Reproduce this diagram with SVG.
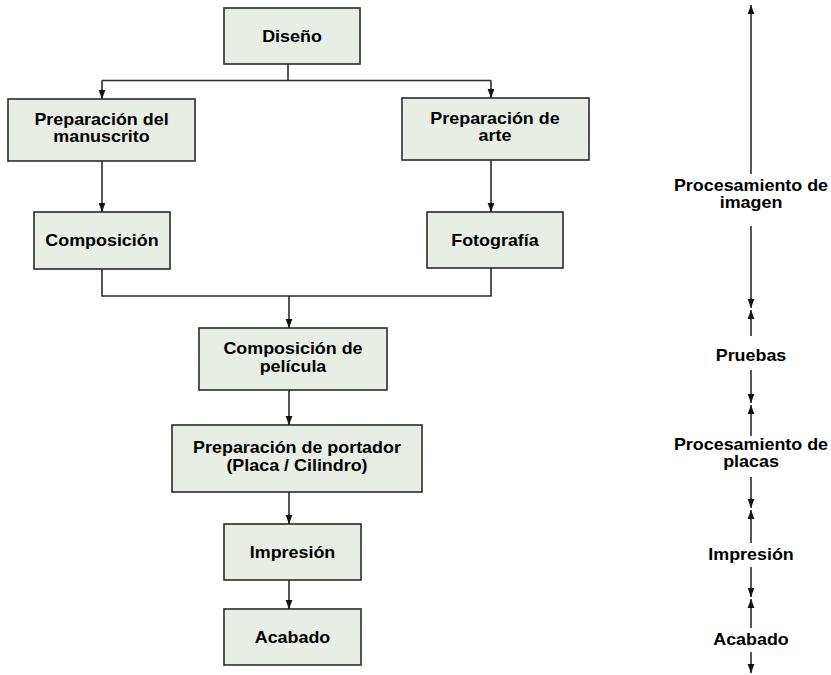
<svg xmlns="http://www.w3.org/2000/svg" width="831" height="675" viewBox="0 0 831 675">
  <style>
    .box { fill: #e8ede6; stroke: #2b2b2b; stroke-width: 1.6; }
    .lbl { font-family: "Liberation Sans", Arial, sans-serif; font-weight: bold; font-size: 15.7px; fill: #000; text-anchor: middle; }
    .wire { fill: none; stroke: #2b2b2b; stroke-width: 1.6; }
  </style>
  <defs>
    <marker id="tip" markerUnits="userSpaceOnUse" markerWidth="9" markerHeight="8" viewBox="0 0 9 8" refX="9" refY="4" orient="auto-start-reverse">
      <path d="M0,0.6 L9,4 L0,7.4 Z" fill="#111"/>
    </marker>
  </defs>
  <rect width="831" height="675" fill="#ffffff"/>

  <!-- connectors of the flow chart -->
  <g id="connectors">
    <path class="wire" d="M288,64 V80.5"/>
    <path class="wire" d="M102,80.5 H491"/>
    <path class="wire" d="M102,80.5 V99" marker-end="url(#tip)"/>
    <path class="wire" d="M491,80.5 V98" marker-end="url(#tip)"/>
    <path class="wire" d="M102,161 V212" marker-end="url(#tip)"/>
    <path class="wire" d="M491,160 V212" marker-end="url(#tip)"/>
    <path class="wire" d="M102,269 V296 H491 V268"/>
    <path class="wire" d="M289,296 V328" marker-end="url(#tip)"/>
    <path class="wire" d="M289,390 V425" marker-end="url(#tip)"/>
    <path class="wire" d="M289,492 V524" marker-end="url(#tip)"/>
    <path class="wire" d="M289,580 V609" marker-end="url(#tip)"/>

    <!-- stage axis on the right -->
    <path class="wire" d="M751,174 V5" marker-end="url(#tip)"/>
    <path class="wire" d="M751,226 V308" marker-end="url(#tip)"/>
    <path class="wire" d="M751,336 V310" marker-end="url(#tip)"/>
    <path class="wire" d="M751,370 V403" marker-end="url(#tip)"/>
    <path class="wire" d="M751,436 V405" marker-end="url(#tip)"/>
    <path class="wire" d="M751,477 V508" marker-end="url(#tip)"/>
    <path class="wire" d="M751,543 V510" marker-end="url(#tip)"/>
    <path class="wire" d="M751,567 V597" marker-end="url(#tip)"/>
    <path class="wire" d="M751,628 V599" marker-end="url(#tip)"/>
    <path class="wire" d="M751,652 V673" marker-end="url(#tip)"/>
  </g>

  <g id="diseno">
    <rect class="box" x="224" y="8" width="136" height="56"/>
    <text class="lbl" transform="translate(292,41.5) scale(1.14,1)">Diseño</text>
  </g>
  <g id="prep-manuscrito">
    <rect class="box" x="8" y="99" width="187" height="62"/>
    <text class="lbl" transform="translate(101.5,124.5) scale(1.14,1)"><tspan x="0">Preparación del</tspan><tspan x="0" dy="18">manuscrito</tspan></text>
  </g>
  <g id="prep-arte">
    <rect class="box" x="402" y="98" width="187" height="62"/>
    <text class="lbl" transform="translate(495,123.5) scale(1.14,1)"><tspan x="0">Preparación de</tspan><tspan x="0" dy="18">arte</tspan></text>
  </g>
  <g id="composicion">
    <rect class="box" x="34" y="212" width="136" height="57"/>
    <text class="lbl" transform="translate(102,246) scale(1.14,1)">Composición</text>
  </g>
  <g id="fotografia">
    <rect class="box" x="427" y="212" width="136" height="56"/>
    <text class="lbl" transform="translate(495,245.5) scale(1.14,1)">Fotografía</text>
  </g>
  <g id="composicion-pelicula">
    <rect class="box" x="199" y="328" width="188" height="62"/>
    <text class="lbl" transform="translate(293,354.3) scale(1.14,1)"><tspan x="0">Composición de</tspan><tspan x="0" dy="18">película</tspan></text>
  </g>
  <g id="prep-portador">
    <rect class="box" x="172" y="425" width="250" height="67"/>
    <text class="lbl" transform="translate(297,453.3) scale(1.14,1)"><tspan x="0">Preparación de portador</tspan><tspan x="0" dy="18">(Placa / Cilindro)</tspan></text>
  </g>
  <g id="impresion">
    <rect class="box" x="224" y="524" width="137" height="56"/>
    <text class="lbl" transform="translate(292.5,557.5) scale(1.14,1)">Impresión</text>
  </g>
  <g id="acabado">
    <rect class="box" x="224" y="609" width="137" height="56"/>
    <text class="lbl" transform="translate(292.5,642.5) scale(1.14,1)">Acabado</text>
  </g>

  <!-- stage labels on the axis -->
  <g id="etapa-imagen">
    <text class="lbl" transform="translate(751,191) scale(1.14,1)"><tspan x="0">Procesamiento de</tspan><tspan x="0" dy="17">imagen</tspan></text>
  </g>
  <g id="etapa-pruebas">
    <text class="lbl" transform="translate(751,361) scale(1.14,1)">Pruebas</text>
  </g>
  <g id="etapa-placas">
    <text class="lbl" transform="translate(751,450) scale(1.14,1)"><tspan x="0">Procesamiento de</tspan><tspan x="0" dy="17">placas</tspan></text>
  </g>
  <g id="etapa-impresion">
    <text class="lbl" transform="translate(751,560) scale(1.14,1)">Impresión</text>
  </g>
  <g id="etapa-acabado">
    <text class="lbl" transform="translate(751,645) scale(1.14,1)">Acabado</text>
  </g>
</svg>
